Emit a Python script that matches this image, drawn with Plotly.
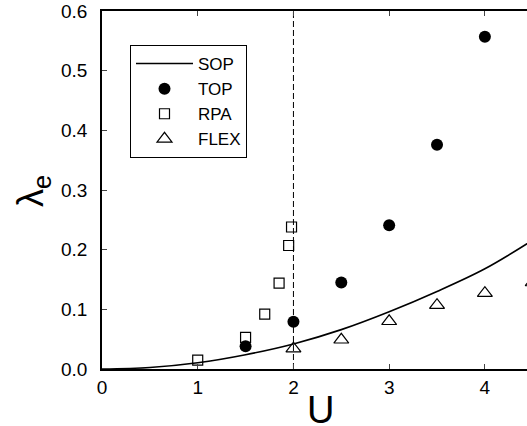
import plotly.graph_objects as go

# SOP curve
sop_u = [0, 0.5, 1.0, 1.5, 2.0, 2.5, 3.0, 3.5, 4.0, 4.5]
sop_l = [0, 0.0026, 0.0105, 0.024, 0.042, 0.066, 0.096, 0.130, 0.168, 0.216]

top_u = [1.5, 2.0, 2.5, 3.0, 3.5, 4.0]
top_l = [0.038, 0.079, 0.145, 0.241, 0.376, 0.557]

rpa_u = [1.0, 1.5, 1.7, 1.85, 1.95, 1.98]
rpa_l = [0.015, 0.053, 0.092, 0.144, 0.207, 0.238]

flex_u = [2.0, 2.5, 3.0, 3.5, 4.0, 4.5]
flex_l = [0.034, 0.049, 0.080, 0.107, 0.127, 0.145]

crit_u = [2.0, 2.0]
crit_l = [0.0, 0.6]

x_ticks = [0, 1, 2, 3, 4]
y_ticks = [0.0, 0.1, 0.2, 0.3, 0.4, 0.5, 0.6]
y_ticktext = ["0.0", "0.1", "0.2", "0.3", "0.4", "0.5", "0.6"]

FONT = "Liberation Sans, Arial, sans-serif"

W, H = 527, 426
ML, MT, MB, MR = 102, 11, 57, 0

fig = go.Figure()
fig.add_trace(go.Scatter(x=crit_u, y=crit_l, mode="lines", showlegend=False,
                         line=dict(color="black", width=1, dash="6px,3px")))
fig.add_trace(go.Scatter(x=sop_u, y=sop_l, mode="lines", name="SOP",
                         line=dict(color="black", width=1.6, shape="spline")))
fig.add_trace(go.Scatter(x=top_u, y=top_l, mode="markers", name="TOP",
                         marker=dict(symbol="circle", size=12, color="black")))
fig.add_trace(go.Scatter(x=rpa_u, y=rpa_l, mode="markers", name="RPA",
                         marker=dict(symbol="square-open", size=10, color="black",
                                     line=dict(width=1.2, color="black"))))
fig.add_trace(go.Scatter(x=flex_u, y=flex_l, mode="markers", name="FLEX",
                         marker=dict(symbol="triangle-up-open", size=13, color="black",
                                     line=dict(width=1.2, color="black"))))

pw, ph = W - ML - MR, H - MT - MB


def px2paper(px, py):
    return (px - ML) / pw, (H - MB - py) / ph


ux, uy = px2paper(320, 410)
lx, ly = px2paper(33, 191)
gx, gy = px2paper(130, 45)

fig.update_layout(
    width=W, height=H,
    margin=dict(l=ML, r=MR, t=MT, b=MB, autoexpand=False),
    paper_bgcolor="white", plot_bgcolor="white",
    font=dict(family=FONT, color="black", size=19),
    showlegend=True,
    legend=dict(x=gx, y=gy, xanchor="left", yanchor="top",
                bordercolor="black", borderwidth=1, bgcolor="white",
                font=dict(size=17, family=FONT),
                itemwidth=57),
    xaxis=dict(range=[0, 4.44], tickvals=x_ticks, ticks="inside", ticklen=5,
               showline=True, linecolor="black", linewidth=1.5, mirror="ticks",
               showgrid=False, zeroline=False, tickfont=dict(size=19),
               ticklabeloverflow="allow"),
    yaxis=dict(range=[0, 0.6], tickvals=y_ticks, ticktext=y_ticktext,
               ticks="inside", ticklen=5,
               showline=True, linecolor="black", linewidth=1.5, mirror=False,
               showgrid=False, zeroline=False, tickfont=dict(size=19),
               ticklabelstandoff=9, ticklabeloverflow="allow"),
    annotations=[
        dict(text="U", x=ux, y=uy, xref="paper", yref="paper", showarrow=False,
             font=dict(size=38, family=FONT), xanchor="center", yanchor="middle"),
        dict(text="λ<sub>e</sub>", x=lx, y=ly, xref="paper", yref="paper",
             showarrow=False, textangle=-90,
             font=dict(size=36, family=FONT), xanchor="center", yanchor="middle"),
    ],
)

fig.write_html("out.html", config={"displayModeBar": False},
               post_script="document.body.style.margin='0';document.body.style.overflow='hidden';")
